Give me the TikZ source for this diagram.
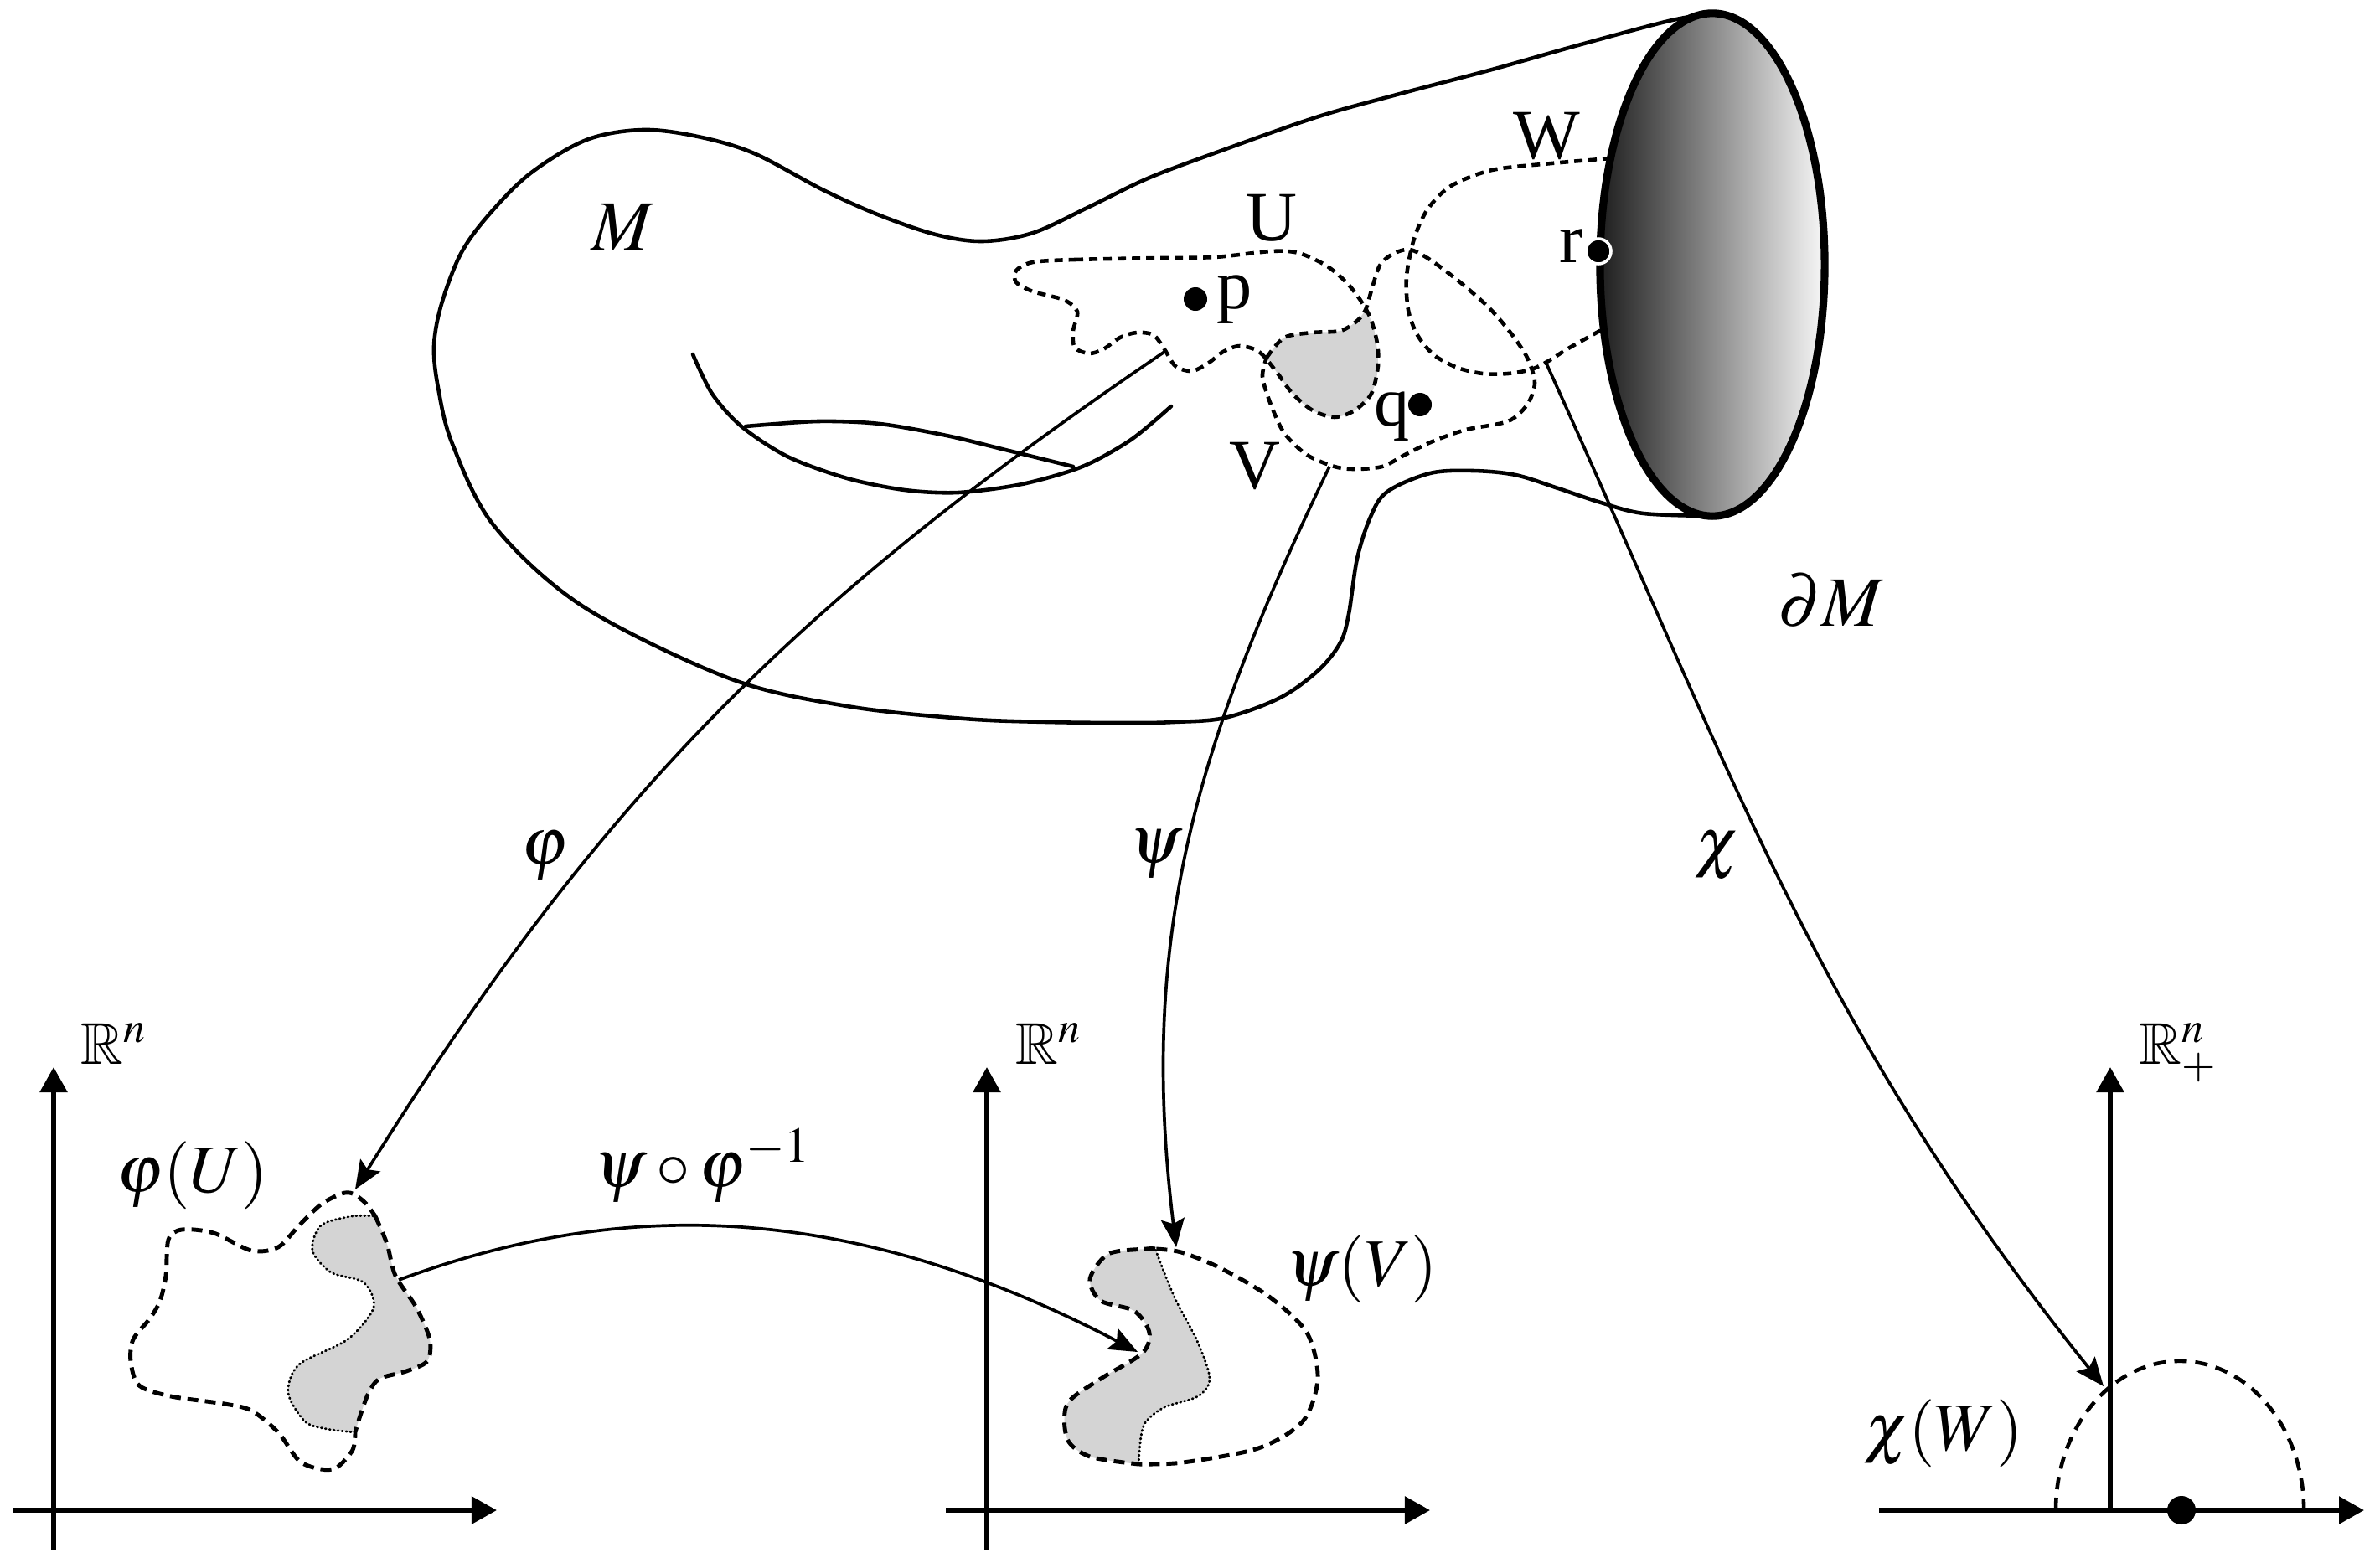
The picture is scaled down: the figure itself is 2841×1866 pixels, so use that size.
\documentclass[tikz,border=0pt]{standalone}
\usepackage{mathptmx}
\usepackage{amssymb}
\usepackage[no-math]{fontspec}
\setmainfont{Liberation Serif}
\usetikzlibrary{arrows.meta}
\begin{document}
\begin{tikzpicture}[x=0.01cm,y=-0.01cm,
  outl/.style={line width=1.3pt,line join=round,line cap=round},
  conn/.style={line width=1.05pt,-{Stealth[length=0.34cm,width=0.28cm,inset=0.06cm]}},
  axisar/.style={line width=1.6pt,-{Triangle[length=0.3cm,width=0.32cm]}},
  mdash/.style={line width=1.3pt,dash pattern=on 0.1cm off 0.07cm},
  cdash/.style={line width=1.4pt,dash pattern=on 0.13cm off 0.08cm},
  sdash/.style={line width=1.3pt,dash pattern=on 0.15cm off 0.1cm},
  dotb/.style={line width=0.8pt,dash pattern=on 0.01cm off 0.04cm,line cap=round},
  grayreg/.style={fill=black!17},
  lbl/.style={font=\fontsize{24}{28}\selectfont,inner sep=0pt},
  mlbl/.style={font=\fontsize{23}{27}\selectfont,inner sep=0pt},
  rlbl/.style={font=\fontsize{20}{24}\selectfont,inner sep=0pt},
  dotn/.style={circle,fill=black,inner sep=0pt,minimum size=0.28cm}
]
\useasboundingbox (0,0) rectangle (2841,1866);

% ---------- manifold outline ----------
\draw[outl] plot[smooth,tension=0.55] coordinates {
 (2044,16) (1992,25) (1880,55) (1781,83) (1671,112) (1571,140) (1452,182)
 (1370,213) (1300,247) (1233,278) (1173,288) (1117,280) (1050,257) (983,227)
 (900,183) (833,163) (767,155) (700,167) (633,207) (583,257) (550,303)
 (527,363) (518,413) (523,463) (540,530) (590,628) (696,724) (871,810)
 (1011,843) (1151,858) (1250,862) (1350,863) (1401,862) (1462,857) (1528,833)
 (1574,800) (1600,767) (1610,733) (1620,667) (1636,617) (1656,587) (1707,565)
 (1758,562) (1809,567) (1860,583) (1911,600) (1962,613) (2044,616)};

% torus hole
\draw[outl] plot[smooth] coordinates {(827,423) (850,470) (885,509) (940,545)
 (1011,571) (1080,585) (1144,588) (1220,578) (1292,557) (1350,525) (1398,485)};
\draw[outl] plot[smooth] coordinates {(890,509) (976,503) (1050,506) (1130,520)
 (1200,537) (1281,557)};

% ---------- chart domains U, V, W ----------
\fill[grayreg] plot[smooth] coordinates {(1512,427) (1533,403) (1567,397) (1600,395) (1620,383) (1630,370)}
  -- plot[smooth] coordinates {(1630,370) (1640,392) (1645,437) (1637,470) (1617,490) (1593,498)
  (1567,490) (1543,470) (1523,443) (1512,427)} -- cycle;

\draw[mdash] plot[smooth cycle] coordinates {(1233,313) (1283,310) (1383,308) (1450,307)
 (1517,300) (1550,302) (1583,317) (1607,337) (1623,357) (1636,380) (1644,410) (1645,437)
 (1637,470) (1617,490) (1593,498) (1567,490) (1543,470) (1523,443) (1503,420) (1480,413)
 (1460,420) (1443,433) (1423,443) (1403,437) (1390,417) (1377,400) (1357,397) (1337,403)
 (1317,417) (1300,422) (1283,415) (1281,395) (1286,372) (1270,358) (1233,348) (1213,337)
 (1213,323)};

\draw[mdash] plot[smooth] coordinates {(1512,427) (1533,403) (1567,397) (1600,395) (1620,383)
 (1630,370) (1637,347) (1647,317) (1663,303) (1683,298) (1707,310) (1743,337) (1777,367)
 (1803,397) (1823,427) (1832,457) (1823,483) (1800,503) (1750,513) (1710,527) (1677,543)
 (1650,557) (1617,560) (1593,557) (1560,543) (1533,517) (1517,483) (1507,450) (1512,427)};

\draw[mdash] plot[smooth] coordinates {(1923,189) (1852,195) (1781,203) (1732,222) (1704,250)
 (1688,285) (1679,330) (1681,370) (1692,400) (1712,424) (1740,439) (1770,446) (1800,446)
 (1828,441) (1850,430) (1872,416) (1915,392)};

% ---------- boundary disc ----------
\coordinate (ellc) at (2044,316);
\shade[left color=black!88,right color=black!3] (ellc) ellipse [x radius=1.34cm,y radius=3cm];
\draw[line width=2.6pt] (ellc) ellipse [x radius=1.34cm,y radius=3cm];

% points
\node[dotn] (p) at (1427,357) {};
\node[dotn] (q) at (1695,483) {};
\node[circle,fill=black,draw=white,line width=1pt,inner sep=0pt,minimum size=0.3cm] (r) at (1908,300) {};

% labels on M
\node[lbl,anchor=base] (Mlab) at (743,298) {$M$};
\node[lbl,anchor=base] (dMlab) at (2185,747) {$\partial M$};
\node[lbl,anchor=base] (Ulab) at (1518,287) {U};
\node[lbl,anchor=base] (Vlab) at (1498,583) {V};
\node[lbl,anchor=base] (Wlab) at (1846,189) {W};
\node[lbl,anchor=base west] (plab) at (1452,368) {p};
\node[lbl,anchor=base east] (qlab) at (1683,508) {q};
\node[lbl,anchor=base east] (rlab) at (1890,313) {r};

% ---------- axes ----------
\coordinate (a1o) at (64,1850);   \coordinate (a1t) at (64,1274);
\coordinate (a1l) at (16,1803);   \coordinate (a1r) at (593,1803);
\coordinate (a2o) at (1178,1850); \coordinate (a2t) at (1178,1274);
\coordinate (a2l) at (1129,1803); \coordinate (a2r) at (1707,1803);
\coordinate (a3o) at (2519,1803); \coordinate (a3t) at (2519,1274);
\coordinate (a3l) at (2243,1803); \coordinate (a3r) at (2822,1803);
\draw[axisar] (a1o) -- (a1t);
\draw[axisar] (a1l) -- (a1r);
\draw[axisar] (a2o) -- (a2t);
\draw[axisar] (a2l) -- (a2r);
\draw[axisar] (a3o) -- (a3t);
\draw[axisar] (a3l) -- (a3r);

\node[rlbl,anchor=base west] (R1) at (96,1270) {$\mathbb{R}^n$};
\node[rlbl,anchor=base west] (R2) at (1212,1270) {$\mathbb{R}^n$};
\node[rlbl,anchor=base west] (R3) at (2553,1270) {$\mathbb{R}^n_+$};

% ---------- phi(U) ----------
\fill[grayreg] plot[smooth] coordinates {(448,1452) (462,1485) (472,1523) (497,1561) (513,1599)
 (510,1625) (485,1637) (453,1646) (440,1663) (430,1690) (424,1710)}
 -- plot[smooth] coordinates {(424,1710) (390,1706) (364,1697) (344,1663) (357,1629) (415,1599)
 (446,1561) (434,1531) (395,1519) (373,1493) (383,1463) (420,1452) (448,1452)} -- cycle;
\draw[cdash] plot[smooth] coordinates {(448,1452) (462,1485) (472,1523) (497,1561) (513,1599)
 (510,1625) (485,1637) (453,1646) (440,1663) (430,1690) (424,1710)}
 -- plot[smooth] coordinates {(424,1710) (421,1731) (402,1752) (383,1754) (357,1744) (332,1710)
 (300,1684) (268,1676) (204,1667) (166,1654) (156,1625) (159,1599) (179,1574) (191,1553)
 (198,1523) (201,1480) (217,1468) (255,1472) (300,1493) (332,1489) (357,1463) (383,1438)
 (408,1425) (421,1425) (436,1436) (448,1452)};
\draw[dotb] plot[smooth] coordinates {(424,1710) (390,1706) (364,1697) (344,1663) (357,1629)
 (415,1599) (446,1561) (434,1531) (395,1519) (373,1493) (383,1463) (420,1452) (448,1452)};

% ---------- psi(V) ----------
\fill[grayreg] plot[smooth] coordinates {(1379,1491) (1368,1491) (1323,1497) (1301,1527)
 (1314,1553) (1354,1565) (1372,1591) (1363,1616) (1314,1646) (1274,1676) (1274,1718)
 (1301,1739) (1359,1748)}
 -- plot[smooth] coordinates {(1359,1748) (1362,1715) (1368,1697) (1390,1680) (1430,1667)
 (1444,1646) (1430,1603) (1404,1553) (1390,1520) (1379,1491)} -- cycle;
\draw[cdash] plot[smooth] coordinates {(1379,1491) (1368,1491) (1323,1497) (1301,1527)
 (1314,1553) (1354,1565) (1372,1591) (1363,1616) (1314,1646) (1274,1676) (1274,1718)
 (1301,1739) (1359,1748)}
 -- plot[smooth] coordinates {(1359,1748) (1412,1746) (1502,1729) (1555,1697) (1573,1646)
 (1560,1591) (1515,1548) (1457,1514) (1410,1495) (1379,1491)};
\draw[dotb] plot[smooth] coordinates {(1359,1748) (1362,1715) (1368,1697) (1390,1680) (1430,1667)
 (1444,1646) (1430,1603) (1404,1553) (1390,1520) (1379,1491)};

% ---------- chi(W) ----------
\coordinate (hl) at (2454,1803);
\draw[sdash] (hl) arc[start angle=180,end angle=0,x radius=1.48cm,y radius=1.78cm];
\node[circle,fill=black,inner sep=0pt,minimum size=0.34cm] (bdot) at (2604,1803) {};

% chart labels
\node[mlbl,anchor=base] (phiU) at (230,1423) {$\varphi(U)$};
\node[mlbl,anchor=base] (trans) at (839,1417) {$\psi\circ\varphi^{-1}$};
\node[mlbl,anchor=base] (psiV) at (1626,1535) {$\psi(V)$};
\node[mlbl,anchor=base] (chiW) at (2320,1731) {$\chi(W)$};

% ---------- maps ----------
\coordinate (phiS) at (1390,420);  \coordinate (phiE) at (424,1420);
\coordinate (psiS) at (1587,557);  \coordinate (psiE) at (1404,1489);
\coordinate (chiS) at (1845,432);  \coordinate (chiE) at (2511,1655);
\coordinate (trS) at (476,1528);   \coordinate (trE) at (1358,1614);
\draw[conn] (phiS) .. controls (939,726) and (712,960) .. (phiE);
\draw[conn] (psiS) .. controls (1425,893) and (1359,1121) .. (psiE);
\draw[conn] (chiS) .. controls (2069,925) and (2170,1230) .. (chiE);
\draw[conn] (trS) .. controls (713,1441) and (986,1419) .. (trE);

\node[mlbl] (philab) at (650,1022) {$\varphi$};
\node[mlbl] (psilab) at (1380,1020) {$\psi$};
\node[mlbl] (chilab) at (2050,1022) {$\chi$};
\end{tikzpicture}
\end{document}
